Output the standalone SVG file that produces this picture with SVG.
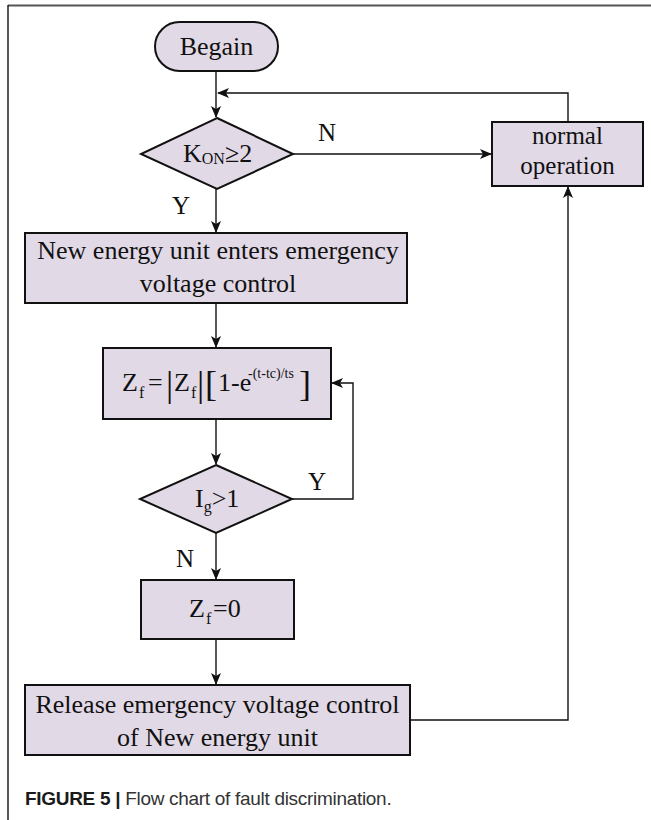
<svg xmlns="http://www.w3.org/2000/svg" width="651" height="820" viewBox="0 0 651 820">
  <defs>
    <style>
      .node { fill: #e2d9e7; stroke: #111; stroke-width: 2; }
      .t { font-family: "Liberation Serif", "Times New Roman", serif; font-size: 26px; fill: #111; }
      .t25 { font-size: 25px; }
      .s16 { font-size: 16px; }
      .s14 { font-size: 14px; }
      .big { font-size: 36px; }
      .lbl { font-family: "Liberation Serif", "Times New Roman", serif; font-size: 25px; fill: #111; }
      .conn { fill: none; stroke: #111; stroke-width: 1.4; }
      .cap { font-family: "Liberation Sans", Arial, sans-serif; font-size: 19px; letter-spacing: -0.3px; fill: #333; }
    </style>
    <marker id="arr" viewBox="0 0 12 10" refX="11" refY="5" markerWidth="12" markerHeight="10" markerUnits="userSpaceOnUse" orient="auto">
      <path d="M0,0 L12,5 L0,10 L3,5 z" fill="#111"/>
    </marker>
  </defs>
  <rect width="651" height="820" fill="#fff"/>
  <!-- frame -->
  <line x1="8" y1="5.5" x2="651" y2="5.5" stroke="#555" stroke-width="2.2"/>
  <line x1="8" y1="5" x2="8" y2="820" stroke="#111" stroke-width="1.4"/>

  <g id="connectors">
    <path class="conn" d="M216,71 V117" marker-end="url(#arr)"/>
    <path class="conn" d="M568,122 V93 H218" marker-end="url(#arr)"/>
    <path class="conn" d="M293,154 H491" marker-end="url(#arr)"/>
    <path class="conn" d="M216,189 V232" marker-end="url(#arr)"/>
    <path class="conn" d="M216,303 V347" marker-end="url(#arr)"/>
    <path class="conn" d="M216,419 V464" marker-end="url(#arr)"/>
    <path class="conn" d="M292,499 H353 V383 H332" marker-end="url(#arr)"/>
    <path class="conn" d="M216,533 V579" marker-end="url(#arr)"/>
    <path class="conn" d="M216,639 V684" marker-end="url(#arr)"/>
    <path class="conn" d="M410,720 H568 V187" marker-end="url(#arr)"/>
    <text class="lbl" x="318" y="141">N</text>
    <text class="lbl" x="172" y="214">Y</text>
    <text class="lbl" x="308" y="490">Y</text>
    <text class="lbl" x="176" y="567">N</text>
  </g>

  <g id="begin">
    <rect class="node" x="155" y="22" width="123" height="49" rx="24.5" ry="24.5"/>
    <text class="t" x="216.5" y="55" text-anchor="middle">Begain</text>
  </g>

  <g id="decision-kon">
    <polygon class="node" points="217,118 293,154 217,189 141,154"/>
    <text class="t" x="183" y="162">K<tspan class="s16" dy="2">ON</tspan><tspan dy="-2">≥2</tspan></text>
  </g>

  <g id="normal-operation">
    <rect class="node" x="492" y="122" width="151" height="64"/>
    <text class="t t25" x="567.5" y="144" text-anchor="middle">normal</text>
    <text class="t t25" x="567.5" y="174" text-anchor="middle">operation</text>
  </g>

  <g id="enter-emergency">
    <rect class="node" x="25" y="233" width="382" height="70"/>
    <text class="t" x="218" y="259" text-anchor="middle">New energy unit enters emergency</text>
    <text class="t" x="218" y="292" text-anchor="middle">voltage control</text>
  </g>

  <g id="zf-formula">
    <rect class="node" x="103" y="348" width="228" height="71"/>
    <text class="t" x="122" y="391">Z</text>
    <text class="t s16" x="139" y="398">f</text>
    <text class="t" x="148" y="391">=</text>
    <text class="t big" x="166" y="396">|</text>
    <text class="t" x="174" y="391">Z</text>
    <text class="t s16" x="191" y="398">f</text>
    <text class="t big" x="197" y="396">|</text>
    <text class="t big" x="205" y="396">[</text>
    <text class="t" x="218" y="391">1-e</text>
    <text class="t s14" x="248" y="378">-(t-tc)/ts</text>
    <text class="t big" x="299" y="396">]</text>
  </g>

  <g id="decision-ig">
    <polygon class="node" points="216,465 292,499 216,533 140,499"/>
    <text class="t" x="195" y="507">I<tspan class="s16" dy="5">g</tspan><tspan dy="-5">&gt;1</tspan></text>
  </g>

  <g id="zf-zero">
    <rect class="node" x="141" y="580" width="153" height="59"/>
    <text class="t" x="189" y="617">Z</text>
    <text class="t s16" x="206" y="624">f</text>
    <text class="t" x="213" y="617">=0</text>
  </g>

  <g id="release">
    <rect class="node" x="25" y="685" width="385" height="70"/>
    <text class="t" x="217.5" y="713" text-anchor="middle">Release emergency voltage control</text>
    <text class="t" x="217.5" y="746" text-anchor="middle">of New energy unit</text>
  </g>

  <text class="cap" x="25" y="805"><tspan font-weight="bold" fill="#1a1a1a">FIGURE 5 | </tspan>Flow chart of fault discrimination.</text>
</svg>
